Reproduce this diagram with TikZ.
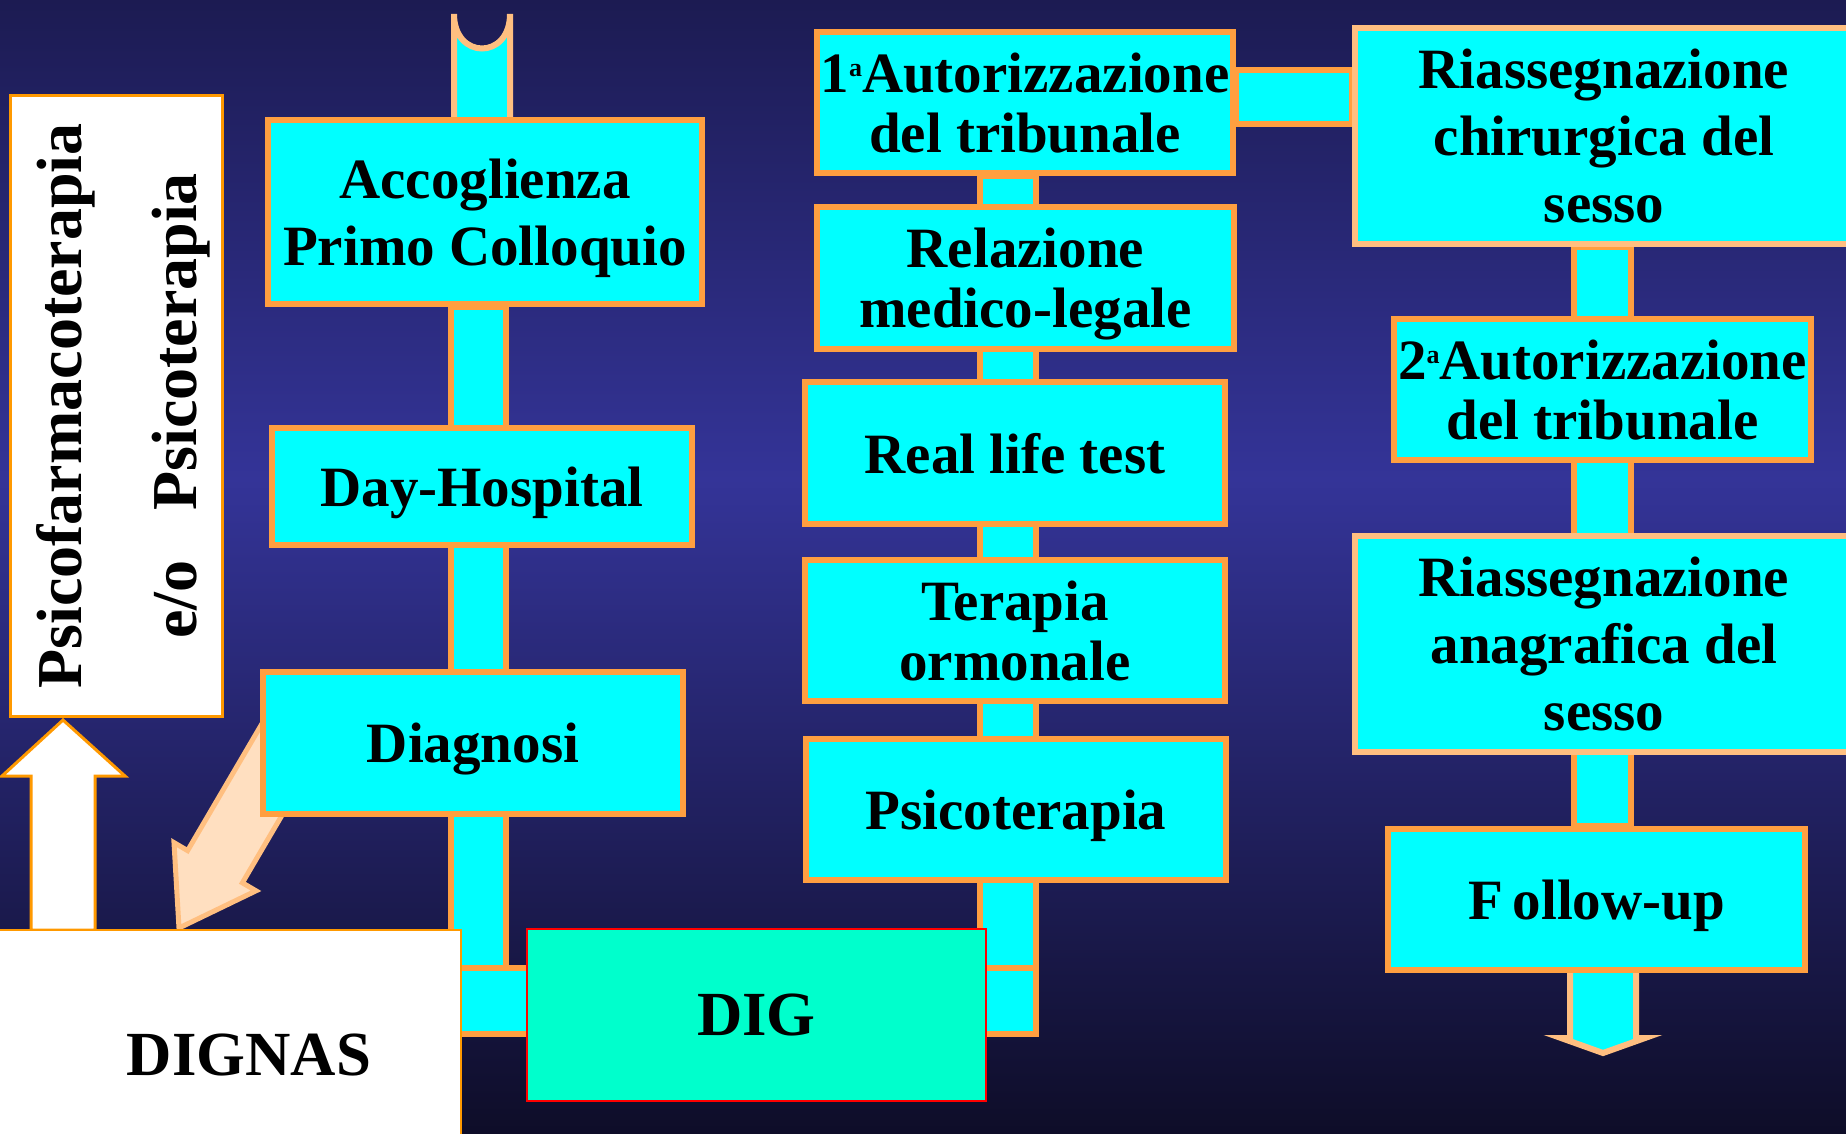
\documentclass[tikz,border=0pt]{standalone}
\usepackage{fontspec}
\setmainfont{Liberation Serif}

\definecolor{bgtop}{RGB}{28,27,82}
\definecolor{bgmid}{RGB}{52,52,152}
\definecolor{bgbot}{RGB}{14,13,40}
\definecolor{pipecyan}{RGB}{0,255,255}
\definecolor{boxorange}{RGB}{255,159,64}
\definecolor{arroworange}{RGB}{255,153,0}
\definecolor{peachline}{RGB}{255,191,128}
\definecolor{peachfill}{RGB}{255,223,192}
\definecolor{digfill}{RGB}{0,255,204}

\newcommand\stagefont{\fontsize{28.5}{33.5}\selectfont\bfseries}
\newcommand\snugfont{\fontsize{28.5}{30}\selectfont\bfseries}
\newcommand\digfont{\fontsize{31.4}{36}\selectfont\bfseries}
\newcommand\sidefont{\fontsize{32}{57.5}\selectfont\bfseries}
\newcommand\ordsup{\raisebox{8pt}{\fontsize{13}{13}\selectfont a}}

\pgfdeclarelayer{bg}
\pgfdeclarelayer{pipes}
\pgfsetlayers{bg,pipes,main}

\begin{document}
\begin{tikzpicture}[x=0.5pt,y=-0.5pt]
	\tikzset{stage/.style = {draw=boxorange, line width=3pt, fill=pipecyan, font=\stagefont, align=center, inner sep=0pt, text depth=0pt}}
	\tikzset{snug/.style = {stage, font=\snugfont}}
	\tikzset{wide/.style = {stage, draw=peachline, minimum width=249pt, minimum height=108pt}}
	\tikzset{whitebox/.style = {draw=arroworange, line width=1.5pt, fill=white, inner sep=0pt, text depth=0pt}}
	\tikzset{pipe/.style = {draw=boxorange, line width=3pt, fill=pipecyan}}
	\useasboundingbox (0,0) rectangle (1846,1134);
	% left column
	\node[stage, minimum width=217pt, minimum height=92pt] (acc) at (485,212) {Accoglienza\\Primo Colloquio};
	\node[stage, minimum width=210pt, minimum height=58.5pt] (day) at (482,486.5) {Day-Hospital};
	\node[stage, minimum width=210pt, minimum height=71pt] (diag) at (473,743) {Diagnosi};
	% middle column
	\node[snug, minimum width=208pt, minimum height=70.5pt] (aut1) at (1025,102.5) {1\ordsup Autorizzazione\\del tribunale};
	\node[snug, minimum width=208.5pt, minimum height=71pt] (rel) at (1025.5,278) {Relazione\\medico-legale};
	\node[stage, minimum width=210pt, minimum height=71pt] (real) at (1015,453) {Real life test};
	\node[snug, minimum width=210pt, minimum height=70.5pt] (ter) at (1015,630.5) {Terapia\\ormonale};
	\node[stage, minimum width=210pt, minimum height=70.5pt] (psi) at (1016,809.5) {Psicoterapia};
	% right column
	\node[wide] (rchir) at (1604,136) {Riassegnazione\\chirurgica del\\sesso};
	\node[snug, minimum width=208.5pt, minimum height=70.5pt] (aut2) at (1602.5,389.5) {2\ordsup Autorizzazione\\del tribunale};
	\node[wide] (ranag) at (1604,643.5) {Riassegnazione\\anagrafica del\\sesso};
	\node[stage, minimum width=208.5pt, minimum height=70.5pt] (fol) at (1596.5,899.5) {F\kern5pt ollow-up};
	% bottom and side
	\node[stage, draw=red, line width=1pt, fill=digfill, font=\digfont, minimum width=229.5pt, minimum height=86pt] (dig) at (756.5,1015) {DIG};
	\node[whitebox, line width=1pt, font=\digfont, anchor=north east, minimum width=250pt, minimum height=125pt] (dignas) at (462,929) {\hspace*{38pt}DIGNAS};
	\node[whitebox, rotate=90, font=\sidefont, align=center, minimum width=310.5pt, minimum height=106pt] (psico) at (116.5,406) {Psicofarmacoterapia\\e/o\hspace{25pt}Psicoterapia};

	\coordinate (barTL) at (451,968);
	\coordinate (barBR) at (1036,1034);
	\coordinate (leftR) at (506,0);
	\coordinate (midL) at (980,0);
	\coordinate (rightL) at (1574,0);
	\coordinate (rightR) at (1631,0);
	\coordinate (topbar) at (0,70);
	\coordinate (topbarB) at (0,124);

	\begin{pgfonlayer}{pipes}
	\draw[pipe] (acc.south -| barTL) rectangle (barBR -| leftR);
	\draw[pipe] (aut1.south -| midL) rectangle (barBR);
	\draw[pipe] (barTL) rectangle (barBR);
	\draw[pipe] (aut1.east |- topbar) rectangle (rchir.west |- topbarB);
	\draw[pipe] (rchir.south -| rightL) rectangle (fol.north -| rightR);
	% cup on top of the left pipe
	\draw[pipe, draw=peachline] (454,14) -- (454,130) -- (510,130) -- (510,14) .. controls (510,60) and (454,60) .. (454,14) -- cycle;
	% arrow out of follow-up
	\draw[pipe, draw=peachline] (1570,960) -- (1570,1038) -- (1561,1038) -- (1603,1053) -- (1645,1038) -- (1636,1038) -- (1636,960) -- cycle;
	% diagnosi to dignas
	\draw[draw=peachline, fill=peachfill, line width=2.5pt] (273.6,703.9) -- (187.6,850.6) -- (174,842.6) -- (179,928) -- (256,890.8) -- (242.4,882.8) -- (328.4,736.1) -- cycle;
	% dignas up to the side box
	\draw[draw=arroworange, fill=white, line width=1.5pt] (31,930) -- (31,776) -- (2,776) -- (63,720) -- (125,776) -- (95,776) -- (95,930) -- cycle;
	\end{pgfonlayer}

	\begin{pgfonlayer}{bg}
	\shade[top color=bgtop, bottom color=bgmid] (0,0) rectangle (1846,480);
	\shade[top color=bgmid, bottom color=bgbot] (0,479) rectangle (1846,1134);
	\end{pgfonlayer}
\end{tikzpicture}
\end{document}
